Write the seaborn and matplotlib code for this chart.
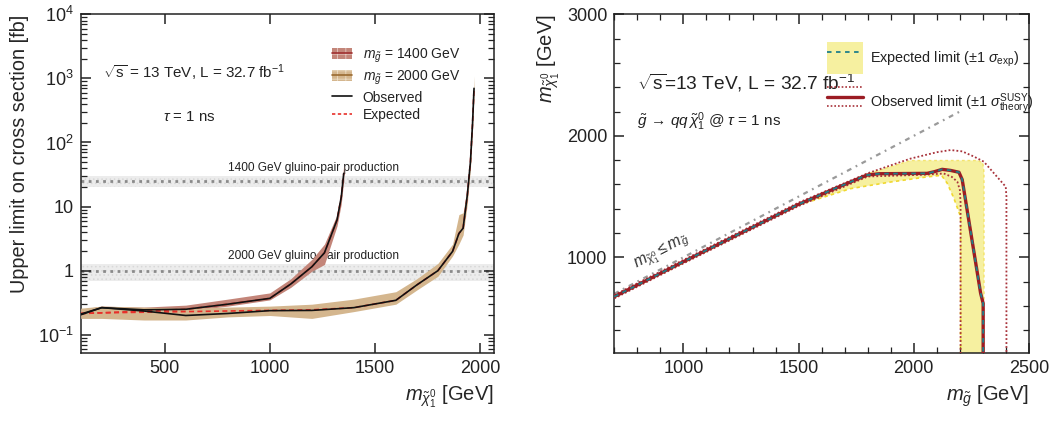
import numpy as np
import matplotlib
matplotlib.use("Agg")
import matplotlib.pyplot as plt
import seaborn as sns
from matplotlib.ticker import MultipleLocator, LogLocator, FuncFormatter, NullFormatter, NullLocator
from matplotlib.patches import Patch
from matplotlib.lines import Line2D
from matplotlib.legend_handler import HandlerBase

# ---------------- data: left panel (cross-section limits) ----------------
gluino_masses = [1400, 2000]

lsp_1400 = [100, 200, 400, 600, 800, 1000, 1100, 1200, 1260, 1320, 1340, 1352]
obs_1400 = [0.21, 0.265, 0.245, 0.25, 0.30, 0.37, 0.62, 1.15, 1.9, 6.2, 14, 33]
exp_1400 = [0.215, 0.22, 0.235, 0.25, 0.30, 0.37, 0.62, 1.15, 1.9, 6.2, 14, 33]
band_lo_1400 = [0.19, 0.20, 0.22, 0.235, 0.28, 0.35, 0.55, 0.98, 1.25, 5.0, 11, 26]
band_hi_1400 = [0.25, 0.28, 0.27, 0.29, 0.36, 0.45, 0.75, 1.5, 2.6, 7.5, 18, 45]

lsp_2000 = [100, 200, 400, 600, 800, 1000, 1200, 1400, 1600, 1700, 1800, 1870, 1900, 1920, 1940, 1955, 1965, 1972]
obs_2000 = [0.205, 0.265, 0.235, 0.20, 0.215, 0.238, 0.24, 0.265, 0.345, 0.6, 1.0, 2.0, 3.8, 4.6, 15, 50, 200, 700]
exp_2000 = [0.215, 0.22, 0.225, 0.23, 0.235, 0.24, 0.245, 0.265, 0.345, 0.6, 1.0, 2.0, 3.8, 4.6, 15, 50, 200, 700]
band_lo_2000 = [0.18, 0.18, 0.17, 0.17, 0.19, 0.20, 0.18, 0.23, 0.30, 0.50, 0.82, 1.7, 2.6, 3.6, 11, 40, 160, 600]
band_hi_2000 = [0.26, 0.28, 0.27, 0.26, 0.27, 0.28, 0.30, 0.36, 0.47, 0.75, 1.3, 2.6, 7.5, 8.0, 20, 70, 300, 1100]

xsec_center = [25.2, 0.98]
xsec_lo = [20.0, 0.68]
xsec_hi = [30.5, 1.27]
xsec_labels = ["1400 GeV gluino-pair production", "2000 GeV gluino-pair production"]

# ---------------- data: right panel (exclusion contour) ----------------
obs_mg = [700, 1000, 1250, 1500, 1650, 1797, 1850, 2058, 2090, 2123, 2160, 2196, 2210, 2290, 2301, 2301]
obs_ml = [676, 964, 1200, 1436, 1560, 1677, 1688, 1691, 1705, 1724, 1715, 1700, 1640, 704, 621, 210]

th_up_mg = [700, 1000, 1500, 1800, 1985, 2100, 2160, 2210, 2260, 2304, 2399, 2402, 2402]
th_up_ml = [690, 978, 1450, 1692, 1812, 1865, 1883, 1872, 1830, 1787, 1581, 1500, 210]
th_dn_mg = [700, 1000, 1500, 1800, 2050, 2130, 2165, 2189, 2200, 2203, 2203]
th_dn_ml = [662, 950, 1422, 1665, 1680, 1690, 1662, 1622, 1553, 1450, 210]

exp_up_mg = [700, 1500, 1800, 1985, 2280, 2300, 2305, 2305]
exp_up_ml = [680, 1440, 1688, 1797, 1797, 1775, 1700, 210]
exp_dn_mg = [700, 1500, 1600, 1725, 1900, 2050, 2120, 2145, 2174, 2203, 2203]
exp_dn_ml = [670, 1430, 1490, 1565, 1620, 1660, 1675, 1610, 1486, 1334, 210]

diag_mg = [700, 2200]
diag_ml = [700, 2200]

# ---------------- style ----------------
sns.set_theme(style="ticks")
plt.rcParams["font.family"] = ["Liberation Sans", "DejaVu Sans"]
plt.rcParams.update({
    "mathtext.fontset": "custom",
    "mathtext.rm": "Liberation Sans",
    "mathtext.it": "Liberation Sans:italic",
    "mathtext.bf": "Liberation Sans:bold",
    "axes.linewidth": 1.1,
    "axes.edgecolor": "#222222",
    "text.color": "#222222",
    "hatch.linewidth": 0.6,
})

c1400_band = "#c38579"
c1400_line = "#a03030"
c2000_band = "#d4b68e"
c2000_line = "#9a6a30"
gray_band = "#ececec"
gray_dot = "#8a8a8a"

yellow = "#f6f0a0"
yellow_edge = "#f0d830"
obs_red = "#9b1c24"
th_red = "#a8323a"
teal = "#1f7f8a"

fig = plt.figure(figsize=(10.58, 4.21), dpi=100)
ax1 = fig.add_axes([0.0763, 0.1608, 0.3906, 0.8052])
ax2 = fig.add_axes([0.5806, 0.1608, 0.3920, 0.8052])


def style_ticks(ax):
    ax.set_axisbelow(False)
    ax.tick_params(axis="both", which="both", direction="in", top=True, right=True,
                   bottom=True, left=True, color="#222222")
    ax.tick_params(axis="both", which="major", length=7.5, width=1.1,
                   labelsize=13, pad=5, labelcolor="#222222")
    ax.tick_params(axis="both", which="minor", length=4, width=0.9)


# ================= left panel =================
ax1.set_yscale("log")
for lo, hi, c in zip(xsec_lo, xsec_hi, xsec_center):
    ax1.axhspan(lo, hi, facecolor=gray_band, lw=0, zorder=1, hatch="....", edgecolor="#d8d8d8")
    ax1.axhline(c, color=gray_dot, lw=2.0, linestyle=(0, (1, 1.6)), zorder=2)

ax1.fill_between(lsp_1400, band_lo_1400, band_hi_1400, color=c1400_band, lw=0, zorder=3)
ax1.fill_between(lsp_2000, band_lo_2000, band_hi_2000, color=c2000_band, lw=0, zorder=4)

for xs, ye, yo in [(lsp_1400, exp_1400, obs_1400), (lsp_2000, exp_2000, obs_2000)]:
    sns.lineplot(x=xs, y=ye, ax=ax1, color="#e8302a", linewidth=1.2,
                 linestyle=(0, (3, 2)), sort=False, estimator=None, zorder=5)
    sns.lineplot(x=xs, y=yo, ax=ax1, color="#111111", linewidth=1.2,
                 sort=False, estimator=None, zorder=6)

ax1.set_xlim(100, 2067)
ax1.set_ylim(0.0514, 1e4)
ax1.xaxis.set_major_locator(MultipleLocator(500))
ax1.xaxis.set_minor_locator(NullLocator())
ax1.yaxis.set_major_locator(LogLocator(base=10, numticks=10))
ax1.yaxis.set_minor_locator(LogLocator(base=10, subs=np.arange(2, 10), numticks=20))
ax1.yaxis.set_minor_formatter(NullFormatter())


def log_fmt(v, pos):
    e = int(round(np.log10(v)))
    if e == 0:
        return "1"
    if e == 1:
        return "10"
    return r"$10^{%d}$" % e


ax1.yaxis.set_major_formatter(FuncFormatter(log_fmt))
style_ticks(ax1)

ax1.set_ylabel("Upper limit on cross section [fb]", fontsize=14.3, loc="top")
ax1.yaxis.set_label_coords(-0.125, 1.0)
ax1.set_xlabel(r"$m_{\tilde{\chi}^{0}_{1}}$ [GeV]", fontsize=14.5, loc="right")
ax1.xaxis.set_label_coords(1.0, -0.09)

ax1.text(0.054, 0.827, r"$\sqrt{\mathrm{s}}$ = 13 TeV, L = 32.7 fb$^{-1}$",
         transform=ax1.transAxes, fontsize=10.9, va="center", ha="left")
ax1.text(0.199, 0.697, r"$\tau$ = 1 ns", transform=ax1.transAxes,
         fontsize=10.8, va="center", ha="left")
for lab, ypos in zip(xsec_labels, [0.546, 0.286]):
    ax1.text(0.356, ypos, lab, transform=ax1.transAxes, fontsize=8.6,
             va="center", ha="left", zorder=2.5)

h1400 = (Patch(facecolor=c1400_band, edgecolor="#e5c8c2", hatch="++", lw=0),
         Line2D([], [], color=c1400_line, lw=1.2))
h2000 = (Patch(facecolor=c2000_band, edgecolor="#ecdcc4", hatch="++", lw=0),
         Line2D([], [], color=c2000_line, lw=1.2))
hobs = Line2D([], [], color="#111111", lw=1.2)
hexp = Line2D([], [], color="#e8302a", lw=1.2, linestyle=(0, (2, 1.5)))
ax1.legend(handles=[h1400, h2000, hobs, hexp],
           labels=[r"$m_{\tilde{g}}$ = %d GeV" % gluino_masses[0],
                   r"$m_{\tilde{g}}$ = %d GeV" % gluino_masses[1],
                   "Observed", "Expected"],
           loc="upper left", bbox_to_anchor=(0.607, 0.905), frameon=False,
           fontsize=10, handlelength=1.45, handleheight=0.9, labelspacing=0.27,
           handletextpad=0.8, borderpad=0, borderaxespad=0)

# ================= right panel =================
band_x = np.concatenate([exp_up_mg, exp_dn_mg[::-1]])
band_y = np.concatenate([exp_up_ml, exp_dn_ml[::-1]])
ax2.fill(band_x, band_y, color=yellow, lw=0, zorder=1)
sns.lineplot(x=exp_dn_mg, y=exp_dn_ml, ax=ax2, color=yellow_edge, linewidth=1.2,
             linestyle=(0, (2, 2)), sort=False, estimator=None, zorder=2)
sns.lineplot(x=exp_up_mg, y=exp_up_ml, ax=ax2, color=yellow_edge, linewidth=1.0,
             linestyle=(0, (2, 2)), sort=False, estimator=None, zorder=2, alpha=0.6)

sns.lineplot(x=diag_mg, y=diag_ml, ax=ax2, color="#9a9a9a", linewidth=1.6,
             linestyle=(0, (2.2, 2.2, 0.8, 2.2)), sort=False, estimator=None, zorder=2)

sns.lineplot(x=th_up_mg, y=th_up_ml, ax=ax2, color=th_red, linewidth=1.3,
             linestyle=(0, (1, 1.2)), sort=False, estimator=None, zorder=3)
sns.lineplot(x=th_dn_mg, y=th_dn_ml, ax=ax2, color=th_red, linewidth=1.3,
             linestyle=(0, (1, 1.2)), sort=False, estimator=None, zorder=3)
sns.lineplot(x=obs_mg, y=obs_ml, ax=ax2, color=obs_red, linewidth=2.4,
             sort=False, estimator=None, zorder=4)
sns.lineplot(x=obs_mg, y=obs_ml, ax=ax2, color=teal, linewidth=1.3,
             linestyle=(0, (2.5, 2.5)), sort=False, estimator=None, zorder=5)

ax2.set_xlim(700, 2500)
ax2.set_ylim(210, 3000)
ax2.xaxis.set_major_locator(MultipleLocator(500))
ax2.xaxis.set_minor_locator(MultipleLocator(100))
ax2.yaxis.set_major_locator(MultipleLocator(1000))
ax2.yaxis.set_minor_locator(MultipleLocator(200))
style_ticks(ax2)

ax2.set_ylabel(r"$m_{\tilde{\chi}^{0}_{1}}$ [GeV]", fontsize=14.5, loc="top")
ax2.yaxis.set_label_coords(-0.125, 1.0)
ax2.set_xlabel(r"$m_{\tilde{g}}$ [GeV]", fontsize=14.5, loc="right")
ax2.xaxis.set_label_coords(1.0, -0.09)

ax2.text(0.055, 0.797, r"$\sqrt{\mathrm{s}}$=13 TeV, L = 32.7 fb$^{-1}$",
         transform=ax2.transAxes, fontsize=13.8, va="center", ha="left")
ax2.text(0.055, 0.684, r"$\tilde{g}\,\rightarrow\,qq\,\tilde{\chi}^{0}_{1}$ @ $\tau$ = 1 ns",
         transform=ax2.transAxes, fontsize=11, va="center", ha="left")
ax2.text(905, 1045, r"$m_{\tilde{\chi}^{0}_{1}} \leq m_{\tilde{g}}$", fontsize=11.5,
         rotation=45, transform_rotates_text=True, rotation_mode="anchor",
         ha="center", va="center", color="#333333")


class HandlerTheory(HandlerBase):
    def create_artists(self, legend, orig_handle, xdescent, ydescent, width,
                       height, fontsize, trans):
        x0, x1 = -xdescent, width - xdescent
        yc = (height - ydescent) / 2.0
        off = height * 0.3
        main = Line2D([x0, x1], [yc, yc], color=obs_red, lw=2.4)
        up = Line2D([x0, x1], [yc + off, yc + off], color=th_red, lw=1.2,
                    linestyle=(0, (1, 1.2)))
        dn = Line2D([x0, x1], [yc - off, yc - off], color=th_red, lw=1.2,
                    linestyle=(0, (1, 1.2)))
        for a in (main, up, dn):
            a.set_transform(trans)
        return [main, up, dn]


h_exp = (Patch(facecolor=yellow, lw=0), Line2D([], [], color=teal, lw=1.3, linestyle=(0, (2.5, 2.5))))
h_obs = Line2D([], [], color=obs_red, lw=2.4)
ax2.legend(handles=[h_exp, h_obs],
           labels=[r"Expected limit ($\pm$1 $\sigma_{\mathrm{exp}}$)",
                   r"Observed limit ($\pm$1 $\sigma^{\mathrm{SUSY}}_{\mathrm{theory}}$)"],
           handler_map={h_obs: HandlerTheory()},
           loc="upper left", bbox_to_anchor=(0.512, 0.918), frameon=False,
           fontsize=10.4, handlelength=2.55, handleheight=3.0, labelspacing=0.9,
           handletextpad=0.45, borderpad=0, borderaxespad=0)

fig.savefig("out.png", dpi=100)
